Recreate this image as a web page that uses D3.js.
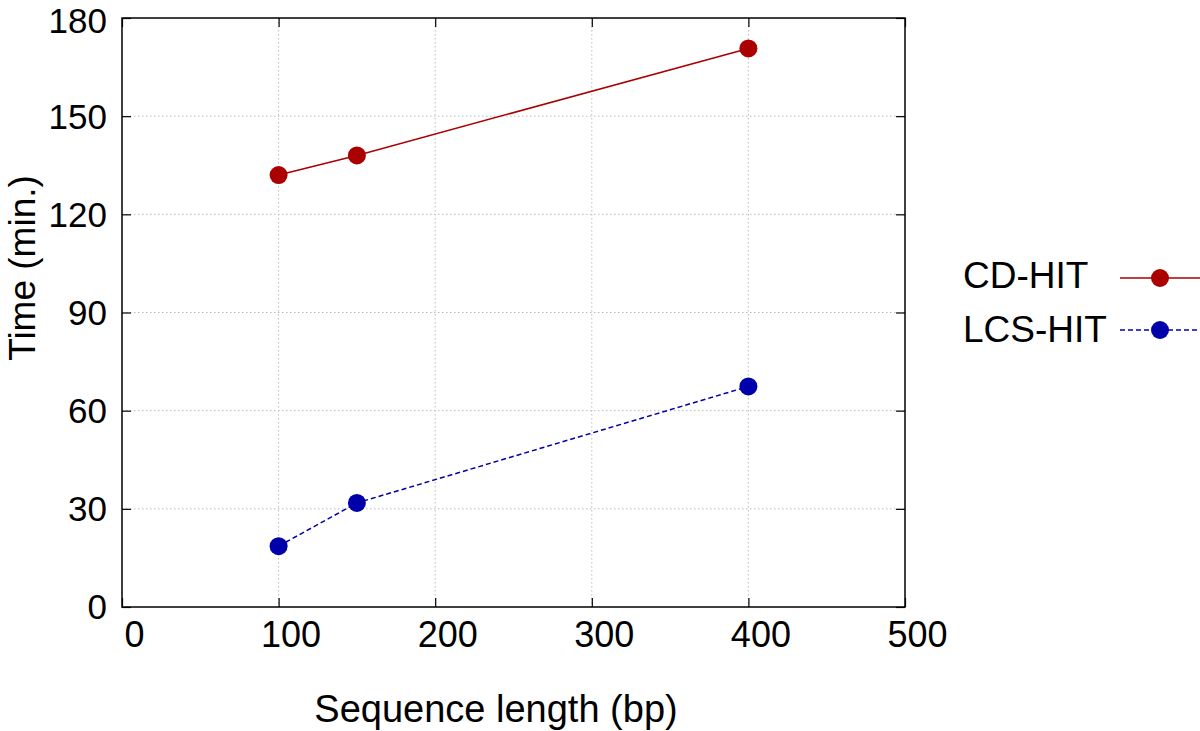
<!DOCTYPE html>
<html><head><meta charset="utf-8">
<script src="https://cdn.jsdelivr.net/npm/d3@7"></script>
<style>body{margin:0;background:#fff}text{font-family:"Liberation Sans",Arial,sans-serif}</style>
</head><body><svg id="c" width="1200" height="731"></svg>
<script>
const seqLength = [100, 150, 400];
const cdHit = [132, 138, 170.7];
const lcsHit = [18.6, 31.8, 67.4];
const seriesNames = ["CD-HIT", "LCS-HIT"];
const xTicks = [0, 100, 200, 300, 400, 500];
const yTicks = [0, 30, 60, 90, 120, 150, 180];

const svg = d3.select("#c");
const L = 122, R = 905, T = 18, B = 607;
const x = d3.scaleLinear().domain([0, 500]).range([L, R]);
const y = d3.scaleLinear().domain([0, 180]).range([B, T]);
const colors = ["#aa0000", "#0000aa"];
const dashes = [null, "5,3"];

// grid
svg.append("g").selectAll("line").data(xTicks.slice(1, -1)).join("line")
  .attr("x1", d => x(d)).attr("x2", d => x(d)).attr("y1", T).attr("y2", B)
  .attr("stroke", "#bbb").attr("stroke-dasharray", "1.5,2.5");
svg.append("g").selectAll("line").data(yTicks.slice(1, -1)).join("line")
  .attr("y1", d => y(d)).attr("y2", d => y(d)).attr("x1", L).attr("x2", R)
  .attr("stroke", "#bbb").attr("stroke-dasharray", "1.5,2.5");

// axes with inward ticks
const ax = (g, axis) => { g.call(axis); g.select(".domain").remove(); g.selectAll(".tick line").attr("stroke", "#000").attr("stroke-width", 1.2); };
svg.append("g").attr("transform", `translate(0,${B})`)
  .call(g => ax(g, d3.axisBottom(x).tickValues(xTicks).tickSizeInner(-9).tickSizeOuter(0).tickPadding(0)))
  .selectAll("text").attr("font-size", 36).attr("fill", "#000").attr("y", 40).attr("dy", 0).attr("dx", 12);
svg.append("g").attr("transform", `translate(0,${T})`)
  .call(g => ax(g, d3.axisTop(x).tickValues(xTicks).tickSizeInner(-9).tickSizeOuter(0).tickFormat("")));
svg.append("g").attr("transform", `translate(${L},0)`)
  .call(g => ax(g, d3.axisLeft(y).tickValues(yTicks).tickSizeInner(-9).tickSizeOuter(0).tickPadding(15)))
  .selectAll("text").attr("font-size", 35).attr("fill", "#000")
  .attr("dy", d => d === 180 ? "0.4em" : "0.34em");
svg.append("g").attr("transform", `translate(${R},0)`)
  .call(g => ax(g, d3.axisRight(y).tickValues(yTicks).tickSizeInner(-9).tickSizeOuter(0).tickFormat("")));

// frame
svg.append("rect").attr("x", L).attr("y", T).attr("width", R - L).attr("height", B - T)
  .attr("fill", "none").attr("stroke", "#000").attr("stroke-width", 1.5);

// series
const data = [cdHit, lcsHit];
const line = d3.line().x((d, i) => x(seqLength[i])).y(d => y(d));
data.forEach((vals, s) => {
  svg.append("path").datum(vals).attr("d", line).attr("fill", "none")
    .attr("stroke", colors[s]).attr("stroke-width", 1.5).attr("stroke-dasharray", dashes[s]);
  svg.append("g").selectAll("circle").data(vals).join("circle")
    .attr("cx", (d, i) => x(seqLength[i])).attr("cy", d => y(d)).attr("r", 9).attr("fill", colors[s]);
});

// axis titles
svg.append("text").attr("x", 496).attr("y", 722).attr("text-anchor", "middle")
  .attr("font-size", 38).text("Sequence length (bp)");
svg.append("text").attr("transform", "translate(35,268) rotate(-90)").attr("text-anchor", "middle")
  .attr("font-size", 37).text("Time (min.)");

// legend
const legY = [278, 330];
const legBase = [288, 342];
seriesNames.forEach((n, s) => {
  const g = svg.append("g");
  g.append("text").attr("x", 963).attr("y", legBase[s]).attr("font-size", 37).text(n);
  g.append("line").attr("x1", 1120).attr("x2", 1200).attr("y1", legY[s]).attr("y2", legY[s])
    .attr("stroke", colors[s]).attr("stroke-width", 1.5).attr("stroke-dasharray", dashes[s]);
  g.append("circle").attr("cx", 1160).attr("cy", legY[s]).attr("r", 9).attr("fill", colors[s]);
});
</script></body></html>
